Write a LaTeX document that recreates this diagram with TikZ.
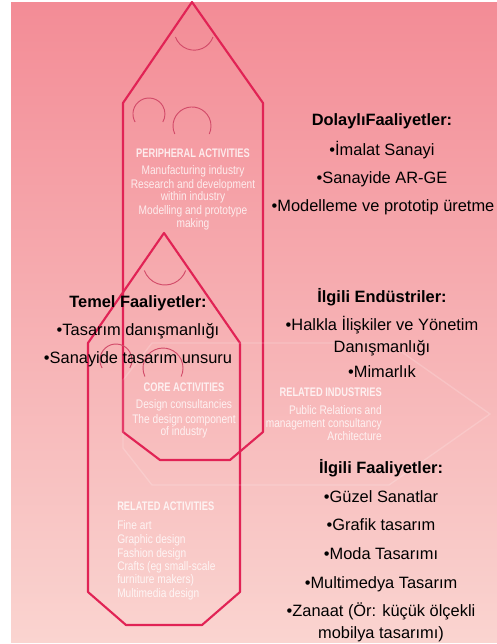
\documentclass[tikz,border=0pt]{standalone}
\usepackage{fontspec}
\setmainfont{Liberation Sans}
\newfontfamily\narrowfont[FakeStretch=0.82]{Liberation Sans}
\newfontfamily\narrowerfont[FakeStretch=0.75]{Liberation Sans}
\definecolor{bgtop}{RGB}{243,140,150}
\definecolor{bgbot}{RGB}{250,212,208}
\definecolor{wallred}{RGB}{225,35,85}
\definecolor{arcred}{RGB}{210,75,105}
\tikzset{
  tr/.style={anchor=base, inner sep=0pt, font=\fontsize{12.3}{16}\selectfont},
  trhead/.style={tr, font=\fontsize{12.3}{16}\selectfont\bfseries},
  en/.style={anchor=base, inner sep=0pt, text=white, text opacity=0.8, font=\narrowfont\fontsize{9.3}{10}\selectfont},
  enhead/.style={en, font=\narrowerfont\fontsize{9.3}{10}\selectfont\bfseries},
  wall/.style={wallred, line width=1.6pt, line join=round},
  deco/.style={arcred, line width=0.7pt},
}
\begin{document}
\begin{tikzpicture}[x=0.75pt, y=-0.75pt]
\useasboundingbox (0,0) rectangle (497,644);
\fill[white] (0,0) rectangle (497,644);
\shade[top color=bgtop, bottom color=bgbot] (11,2) rectangle (497,642);
% houses
\draw[wall] (192,2) -- (263,103) -- (263,432) -- (230,460) -- (160,460) -- (123,432) -- (123,103) -- cycle;
\draw[wall] (164,233) -- (240,343) -- (240,592) -- (202,625) -- (126,625) -- (88,592) -- (88,343) -- cycle;
% related industries, faint
\draw[white, opacity=0.18, line width=1pt] (152,343) -- (389,343) -- (490,414) -- (389,485) -- (152,485) -- (123,448) -- (123,380) -- cycle;
% little arcs
\draw[deco] (213,37) arc[start angle=20, end angle=160, radius=20];
\draw[deco] (135.1,122) arc[start angle=150, end angle=390, radius=16];
\draw[deco] (174.8,134) arc[start angle=155, end angle=385, radius=19];
\draw[deco] (185.7,270.5) arc[start angle=20, end angle=160, radius=22];
\draw[deco] (102.1,368) arc[start angle=150, end angle=390, radius=16];
\draw[deco] (144.9,376.5) arc[start angle=155, end angle=385, radius=20];
% english labels
\node[enhead] (peri) at (193,157) {PERIPHERAL ACTIVITIES};
\node[en] (peri1) at (193,174) {Manufacturing industry};
\node[en] (peri2) at (193,188) {Research and development};
\node[en] (peri3) at (193,200) {within industry};
\node[en] (peri4) at (193,214) {Modelling and prototype};
\node[en] (peri5) at (193,227) {making};
\node[enhead] (core) at (184,391) {CORE ACTIVITIES};
\node[en] (core1) at (184,408) {Design consultancies};
\node[en] (core2) at (184,423) {The design component};
\node[en] (core3) at (184,435) {of industry};
\node[enhead, anchor=base east] (relind) at (382,396) {RELATED INDUSTRIES};
\node[en, anchor=base east] (relind1) at (382,414) {Public Relations and};
\node[en, anchor=base east] (relind2) at (382,427) {management consultancy};
\node[en, anchor=base east] (relind3) at (382,440) {Architecture};
\node[enhead, anchor=base west] (relact) at (117,510) {RELATED ACTIVITIES};
\node[en, anchor=base west] (relact1) at (117,529) {Fine art};
\node[en, anchor=base west] (relact2) at (117,543) {Graphic design};
\node[en, anchor=base west] (relact3) at (117,557) {Fashion design};
\node[en, anchor=base west] (relact4) at (117,570) {Crafts (eg small-scale};
\node[en, anchor=base west] (relact5) at (117,583) {furniture makers)};
\node[en, anchor=base west] (relact6) at (117,597) {Multimedia design};
% turkish labels
\node[trhead] (dolayli) at (382,125) {DolaylıFaaliyetler:};
\node[tr] (imalat) at (382,155) {•İmalat Sanayi};
\node[tr] (arge) at (382,183) {•Sanayide AR-GE};
\node[tr] (model) at (383,211) {•Modelleme ve prototip üretme};
\node[trhead] (ilgend) at (382,302) {İlgili Endüstriler:};
\node[tr] (halkla) at (382,330) {•Halkla İlişkiler ve Yönetim};
\node[tr] (danis) at (382,352) {Danışmanlığı};
\node[tr] (mimar) at (382,377) {•Mimarlık};
\node[trhead] (ilgfaal) at (381,473) {İlgili Faaliyetler:};
\node[tr] (guzel) at (381,502) {•Güzel Sanatlar};
\node[tr] (grafik) at (381,530) {•Grafik tasarım};
\node[tr] (moda) at (381,559) {•Moda Tasarımı};
\node[tr] (multi) at (381,588) {•Multimedya Tasarım};
\node[tr] (zanaat) at (381,616) {•Zanaat (Ör: küçük ölçekli};
\node[tr] (mobilya) at (381,638) {mobilya tasarımı)};
\node[trhead] (temel) at (138,307) {Temel Faaliyetler:};
\node[tr] (tasdan) at (138,335) {•Tasarım danışmanlığı};
\node[tr] (unsur) at (138,363) {•Sanayide tasarım unsuru};
\end{tikzpicture}
\end{document}
